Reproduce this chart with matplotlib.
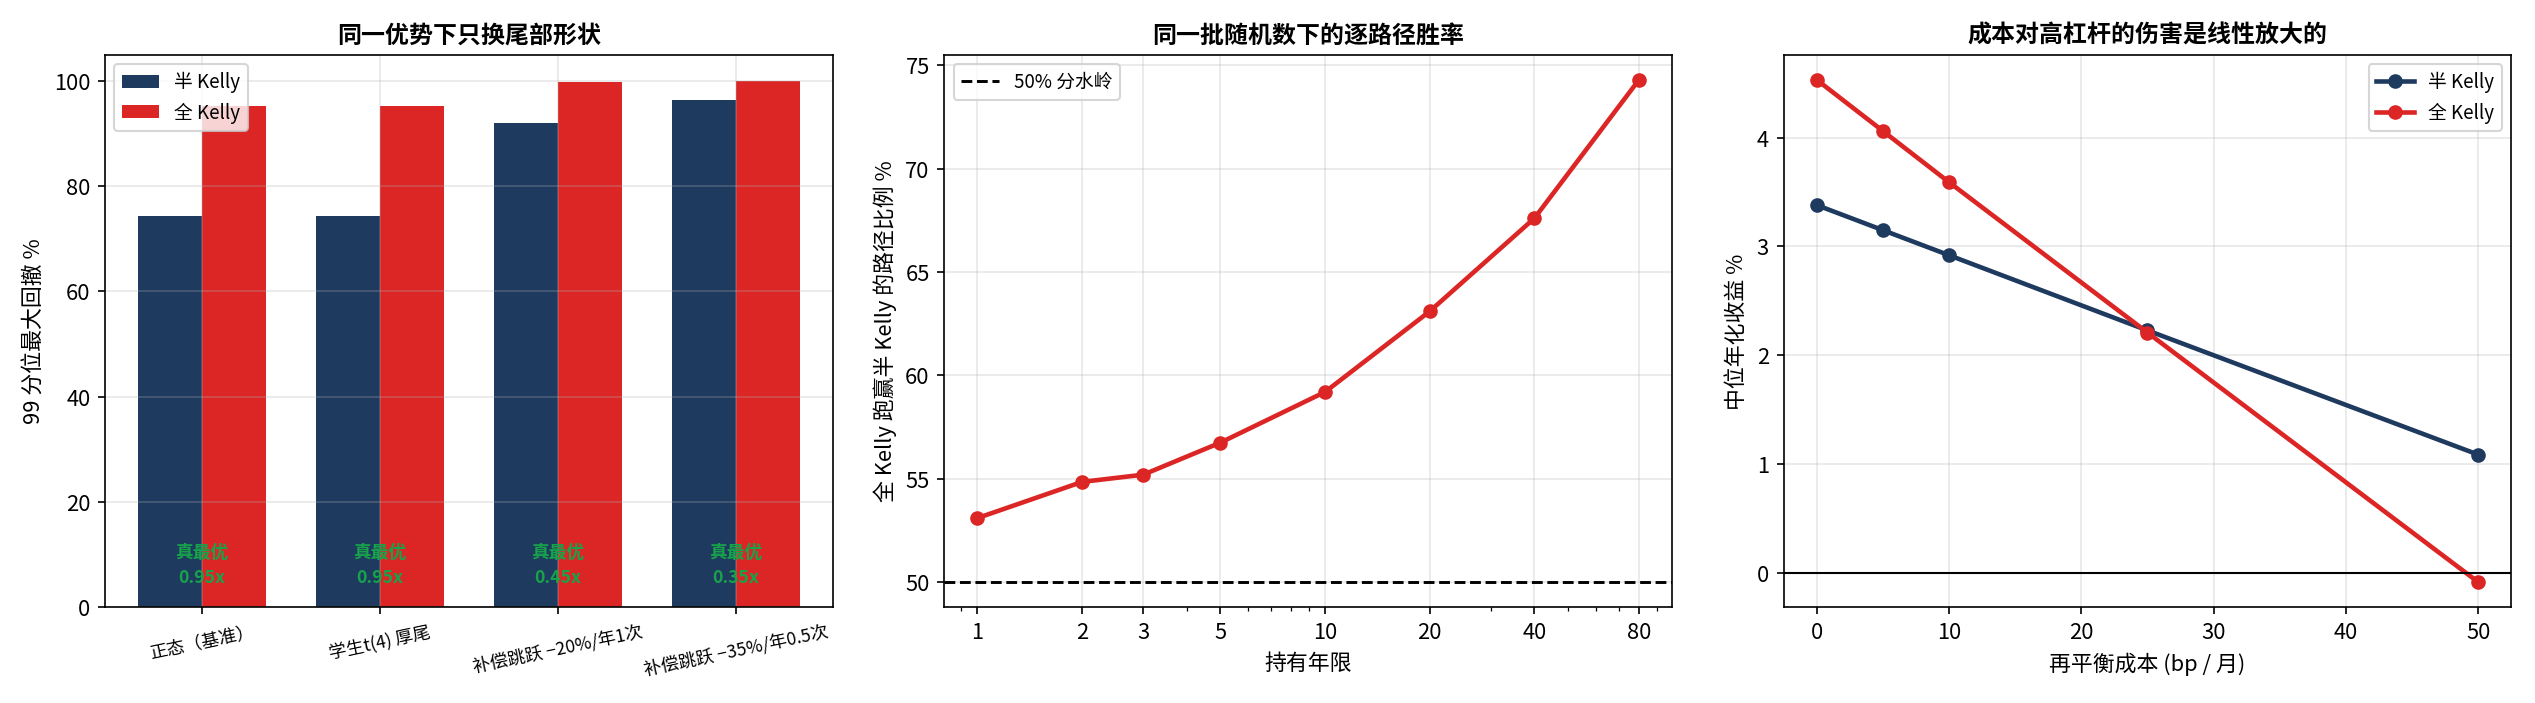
import numpy as np
import matplotlib
matplotlib.use('Agg')
import matplotlib.pyplot as plt
from matplotlib.ticker import ScalarFormatter, NullFormatter

plt.rcParams['font.family'] = ['Noto Sans CJK SC', 'DejaVu Sans']
plt.rcParams['axes.unicode_minus'] = False
plt.rcParams['font.size'] = 10.5

NAVY = '#1f3a5f'
RED = '#dc2626'
GREEN = '#16a34a'

# panel 1: tail shapes
scenarios = ['正态（基准）', '学生t(4) 厚尾', '补偿跳跃 −20%/年1次', '补偿跳跃 −35%/年0.5次']
dd_half = [74.4, 74.4, 92.0, 96.4]
dd_full = [95.2, 95.2, 99.8, 100.0]
best_mult = ['0.95x', '0.95x', '0.45x', '0.35x']

# panel 2: path win rate by horizon
years = [1, 2, 3, 5, 10, 20, 40, 80]
win_pct = [53.1, 54.85, 55.2, 56.75, 59.2, 63.1, 67.6, 74.3]

# panel 3: cost drag
cost_bp = [0, 5, 10, 25, 50]
ret_half = [3.38, 3.15, 2.92, 2.23, 1.09]
ret_full = [4.53, 4.06, 3.59, 2.21, -0.08]

fig, axes = plt.subplots(1, 3, figsize=(16.9, 4.69), dpi=150)

# --- left
ax = axes[0]
x = np.arange(len(scenarios))
w = 0.36
ax.bar(x - w / 2, dd_half, w, color=NAVY, label='半 Kelly')
ax.bar(x + w / 2, dd_full, w, color=RED, label='全 Kelly')
for i, m in enumerate(best_mult):
    ax.text(x[i], 4, '真最优\n' + m, ha='center', va='bottom', color=GREEN,
            fontsize=8.5, fontweight='bold', linespacing=1.5)
ax.set_xticks(x)
ax.set_xticklabels(scenarios, rotation=12, fontsize=8.5)
ax.set_ylabel('99 分位最大回撤 %')
ax.set_title('同一优势下只换尾部形状', fontweight='bold', fontsize=11.5)
ax.legend(loc='upper left', fontsize=9)
ax.grid(alpha=0.3)

# --- middle
ax = axes[1]
ax.plot(years, win_pct, 'o-', color=RED, lw=2.2, ms=6)
ax.axhline(50, color='black', ls='--', lw=1.4, label='50% 分水岭')
ax.set_xscale('log')
ax.set_xticks(years)
ax.xaxis.set_major_formatter(ScalarFormatter())
ax.xaxis.set_minor_formatter(NullFormatter())
ax.set_xlabel('持有年限')
ax.set_ylabel('全 Kelly 跑赢半 Kelly 的路径比例 %')
ax.set_title('同一批随机数下的逐路径胜率', fontweight='bold', fontsize=11.5)
ax.legend(loc='upper left', fontsize=9)
ax.grid(alpha=0.3)

# --- right
ax = axes[2]
ax.plot(cost_bp, ret_half, 'o-', color=NAVY, lw=2.2, ms=6, label='半 Kelly')
ax.plot(cost_bp, ret_full, 'o-', color=RED, lw=2.2, ms=6, label='全 Kelly')
ax.axhline(0, color='black', lw=1)
ax.set_xlabel('再平衡成本 (bp / 月)')
ax.set_ylabel('中位年化收益 %')
ax.set_title('成本对高杠杆的伤害是线性放大的', fontweight='bold', fontsize=11.5)
ax.legend(loc='upper right', fontsize=9)
ax.grid(alpha=0.3)

plt.tight_layout()
plt.savefig('out.png', dpi=150)
